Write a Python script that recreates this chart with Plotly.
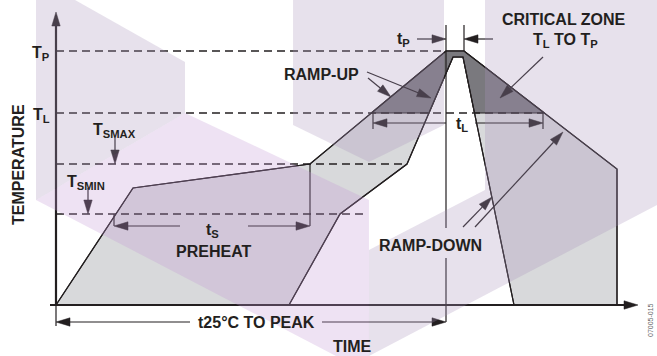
import plotly.graph_objects as go

# ---------------- data (time units, temperature units) ----------------
outer_time = [0, 77, 254, 390, 408, 561, 561]
outer_temp = [0, 117, 141, 254, 254, 136, 0]
inner_time = [233, 284, 351, 397, 407, 458]
inner_temp = [0, 91, 141, 248, 248, 0]

level_names = ["T<sub>P</sub>", "T<sub>L</sub>", "T<sub>SMAX</sub>", "T<sub>SMIN</sub>"]
level_temps = [254, 192, 141, 91]
level_ends = [390, 487, 351, 312]

t_peak = 390          # time of peak start (t25°C to peak)
t_peak_end = 408
t_preheat = [58, 254]  # t_S span
t_liquid = [317, 487]  # t_L span

# arrows: (tail_x, tail_y, tip_x, tip_y)
arrows = [
    (0, 272, 0, 293),        # y axis
    (560, 0, 582, 0),        # x axis
    (59, 167, 59, 141),      # T_SMAX
    (32, 117, 32, 91),       # T_SMIN
    (361, 266, 390, 266),    # t_P left
    (437, 266, 408, 266),    # t_P right
    (311, 233, 375, 207),    # ramp-up 1
    (312, 227, 335, 208),    # ramp-up 2
    (487, 248, 444, 207),    # critical zone
    (390, 182, 317, 182),    # t_L left
    (419, 182, 487, 182),    # t_L right
    (124, 79, 58, 79),       # t_S left
    (192, 79, 254, 79),      # t_S right
    (134, -17, 0, -17),      # t25 left
    (266, -17, 390, -17),    # t25 right
    (407, 78, 436, 108),     # ramp-down 1
    (419, 78, 507, 173),     # ramp-down 2
]

INK = "#231f20"
FONT = "Liberation Sans"

fig = go.Figure()

# ---------------- fills ----------------
fig.add_trace(go.Scatter(x=outer_time, y=outer_temp, fill="toself", mode="lines",
                         fillcolor="rgb(216,217,219)", line=dict(color=INK, width=1.2),
                         hoverinfo="skip"))
fig.add_trace(go.Scatter(x=inner_time, y=inner_temp, fill="toself", mode="lines",
                         fillcolor="white", line=dict(color=INK, width=1.2),
                         hoverinfo="skip"))


def clip_above(xs, ys, level):
    px, py = [], []
    for i in range(len(xs) - 1):
        x0, y0, x1, y1 = xs[i], ys[i], xs[i + 1], ys[i + 1]
        if y0 >= level:
            px.append(x0); py.append(y0)
        if (y0 - level) * (y1 - level) < 0:
            f = (level - y0) / (y1 - y0)
            px.append(x0 + f * (x1 - x0)); py.append(level)
    if ys[-1] >= level:
        px.append(xs[-1]); py.append(ys[-1])
    return px, py


ox, oy = clip_above(outer_time, outer_temp, level_temps[1])
ix, iy = clip_above(inner_time, inner_temp, level_temps[1])
cz_x = ox + ix[::-1] + [ox[0]]
cz_y = oy + iy[::-1] + [oy[0]]
fig.add_trace(go.Scatter(x=cz_x, y=cz_y, fill="toself", mode="lines",
                         fillcolor="rgb(122,121,126)", line=dict(color=INK, width=1.2),
                         hoverinfo="skip"))
# redraw profile outlines on top
fig.add_trace(go.Scatter(x=outer_time, y=outer_temp, mode="lines",
                         line=dict(color=INK, width=1.2), hoverinfo="skip"))
fig.add_trace(go.Scatter(x=inner_time, y=inner_temp, mode="lines",
                         line=dict(color=INK, width=1.2), hoverinfo="skip"))

# ---------------- dashed level lines ----------------
dx, dy = [], []
for T, e in zip(level_temps, level_ends):
    dx += [0, e, None]; dy += [T, T, None]
fig.add_trace(go.Scatter(x=dx, y=dy, mode="lines",
                         line=dict(color=INK, width=1.3, dash="8px,5px"), hoverinfo="skip"))

# ---------------- solid guide lines ----------------
gx, gy = [], []
# peak vertical line (gap for RAMP-DOWN label)
gx += [t_peak, t_peak, None, t_peak, t_peak, None]
gy += [280, 77, None, 47, -17, None]
gx += [t_peak_end, t_peak_end, None]
gy += [280, level_temps[0], None]
# t_S ticks
gx += [t_preheat[0], t_preheat[0], None, t_preheat[1], t_preheat[1], None]
gy += [level_temps[3], 79, None, level_temps[2], 79, None]
# t_L ticks
gx += [t_liquid[0], t_liquid[0], None, t_liquid[1], t_liquid[1], None]
gy += [level_temps[1], 176, None, level_temps[1], 176, None]
# t25 tick
gx += [0, 0, None]
gy += [0, -21, None]
fig.add_trace(go.Scatter(x=gx, y=gy, mode="lines", line=dict(color=INK, width=1.2),
                         hoverinfo="skip"))

# axes
fig.add_trace(go.Scatter(x=[0, 0, None, -6, 570], y=[0, 280, None, 0, 0], mode="lines",
                         line=dict(color=INK, width=2.2), hoverinfo="skip"))

# ---------------- arrows ----------------
ax_l, ay_l, hx, hy = [], [], [], []
for (tx, ty, px, py) in arrows:
    vx, vy = px - tx, py - ty
    L = (vx ** 2 + vy ** 2) ** 0.5
    ux, uy = vx / L, vy / L
    hl, hw = 14.0, 4.2
    bx, by = px - ux * hl, py - uy * hl
    ax_l += [tx, bx, None]; ay_l += [ty, by, None]
    hx += [px, bx - uy * hw, bx + uy * hw, px, None]
    hy += [py, by + ux * hw, by - ux * hw, py, None]
fig.add_trace(go.Scatter(x=ax_l, y=ay_l, mode="lines", line=dict(color=INK, width=1.2),
                         hoverinfo="skip"))
fig.add_trace(go.Scatter(x=hx, y=hy, mode="lines", fill="toself", fillcolor=INK,
                         line=dict(color=INK, width=0.5), hoverinfo="skip"))

# ---------------- watermark (decorative) ----------------
W, H = 657, 356


def wpath(pts):
    s = "M " + " L ".join(f"{x / W:.4f},{1 - y / H:.4f}" for x, y in pts) + " Z"
    return s


lav = "rgb(168,148,188)"
pink = "rgb(195,152,212)"
wm = [
    ([(36, 0), (75, 0), (185, 62), (185, 113), (36, 200)], lav),
    ([(36, 200), (185, 113), (369, 200), (369, 356), (336, 356)], pink),
    ([(293, 0), (444, 0), (444, 125), (369, 162), (293, 125)], lav),
    ([(485, 0), (657, 0), (657, 205), (369, 356), (369, 250), (485, 190)], lav),
]
for pts, col in wm:
    fig.add_shape(type="path", path=wpath(pts), xref="paper", yref="paper",
                  fillcolor=col, opacity=0.28, line=dict(width=0), layer="above")

# ---------------- labels ----------------
def label(x, y, text, size=16, angle=0, color=INK, xanchor="center"):
    fig.add_annotation(x=x, y=y, text=text, showarrow=False, textangle=angle,
                       xanchor=xanchor, yanchor="middle",
                       font=dict(family=FONT, size=size, color=color, weight="bold"))


label(-4, level_temps[0] - 2, level_names[0], xanchor="right")
label(-4, level_temps[1] - 2, level_names[1], xanchor="right")
label(58, 175, level_names[2])
label(30, 123, level_names[3])
label(156, 75, "t<sub>S</sub>")
label(157, 54, "PREHEAT")
label(406, 181, "t<sub>L</sub>")
label(347, 266, "t<sub>P</sub>")
label(265, 231, "RAMP-UP")
label(508, 286, "CRITICAL ZONE")
label(509, 265, "T<sub>L</sub> TO T<sub>P</sub>")
label(374, 60, "RAMP-DOWN")
label(200, -17, "t25°C TO PEAK")
label(296, -41, "TIME")
label(-38, 140, "TEMPERATURE", angle=-90)
fig.add_annotation(x=594, y=-15, text="07005-015", showarrow=False, textangle=-90,
                   font=dict(family=FONT, size=7, color="#666666"))

fig.update_layout(
    width=657, height=356, margin=dict(l=0, r=0, t=0, b=0),
    paper_bgcolor="white", plot_bgcolor="white", showlegend=False,
    xaxis=dict(range=[-56, 601], visible=False, fixedrange=True),
    yaxis=dict(range=[-51, 305], visible=False, fixedrange=True),
)
fig.write_html("out.html", config={"displayModeBar": False},
               post_script="document.body.style.margin='0px';")
